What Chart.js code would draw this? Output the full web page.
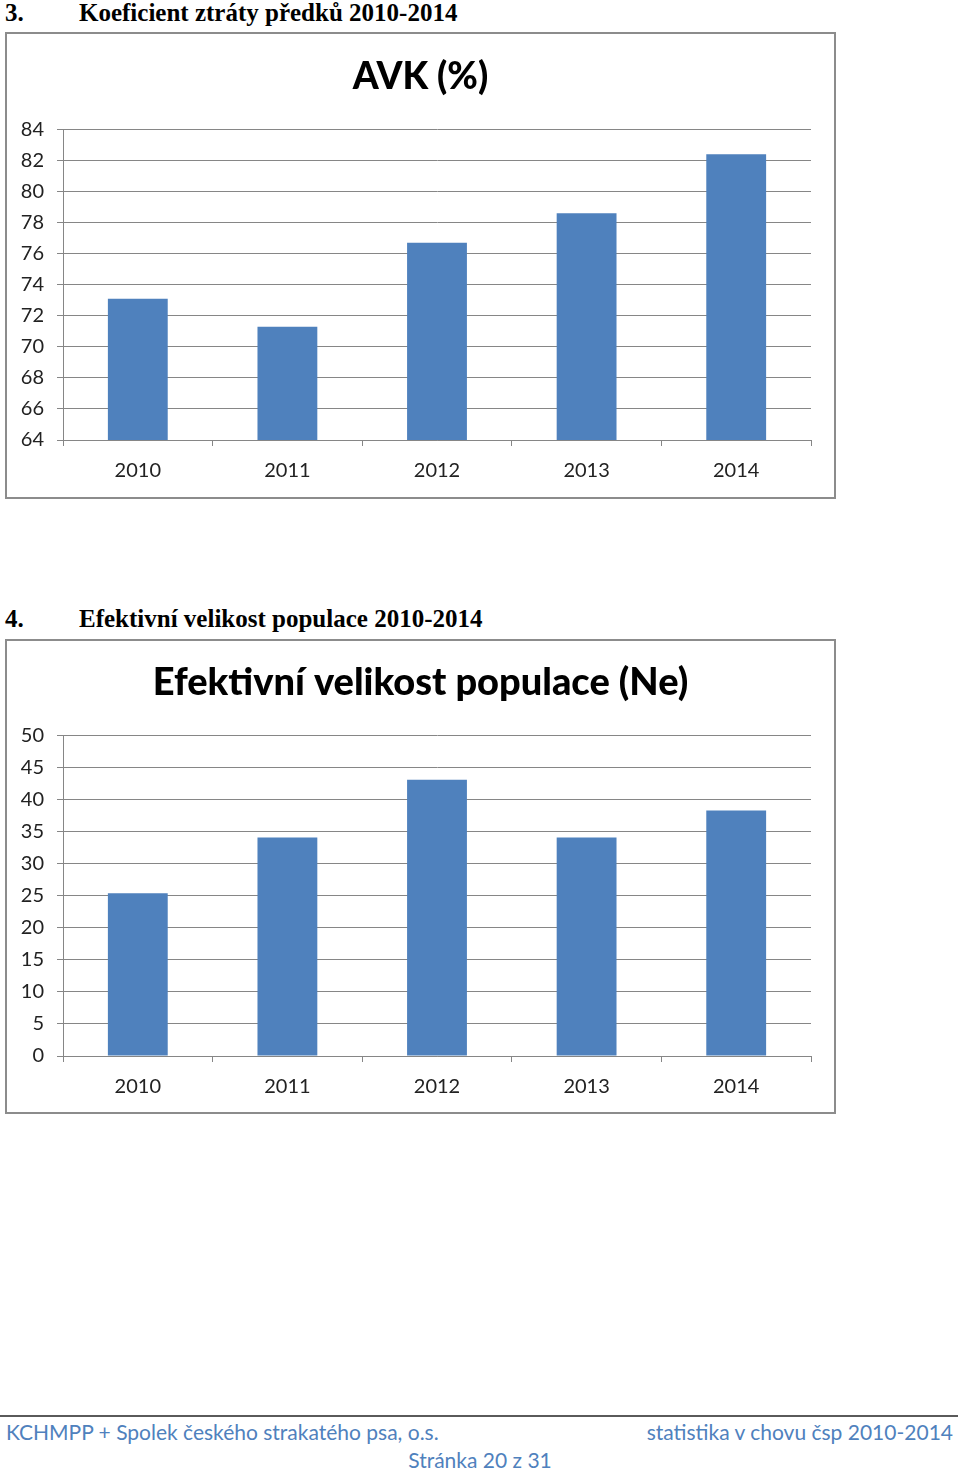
<!DOCTYPE html>
<html>
<head>
<meta charset="utf-8">
<script src="https://cdn.jsdelivr.net/npm/chart.js@4.4.1/dist/chart.umd.min.js"></script>
<style>
    body{margin:0;width:960px;height:1471px;background:#fff;position:relative;overflow:hidden;}
    .nadpis{position:absolute;left:5px;font-family:"Liberation Serif",serif;font-weight:bold;font-size:25px;color:#000;white-space:nowrap;}
    .nadpis span{position:absolute;left:74px;}
    .box{position:absolute;left:5px;width:827px;border:2px solid #8c8c8c;background:#fff;}
    .box canvas{display:block;}
    #line{position:absolute;left:0;top:1415px;width:958px;height:2px;background:#5a5a5a;}
    .pata{position:absolute;font-family:Lato,sans-serif;font-size:21px;color:#4f81bd;white-space:nowrap;}
</style>
</head>
<body>
<div class="nadpis" style="top:-1px">3.<span>Koeficient ztráty předků 2010-2014</span></div>
<div class="box" style="top:32px;height:463px"><canvas id="graf1" width="827" height="463"></canvas></div>

<div class="nadpis" style="top:605px">4.<span>Efektivní velikost populace 2010-2014</span></div>
<div class="box" style="top:639px;height:471px"><canvas id="graf2" width="827" height="471"></canvas></div>

<div id="line"></div>
<div class="pata" style="left:6px;top:1419px">KCHMPP + Spolek českého strakatého psa, o.s.</div>
<div class="pata" style="right:7px;top:1419px">statistika v chovu čsp 2010-2014</div>
<div class="pata" style="left:0;width:960px;text-align:center;top:1447px">Stránka 20 z 31</div>

<script>
// data
const roky = ["2010", "2011", "2012", "2013", "2014"];
const avk = [73.1, 71.3, 76.7, 78.6, 82.4];
const ne = [25.4, 34.1, 43.1, 34.1, 38.3];
const avkOsa = [64, 84, 2];   // min, max, krok
const neOsa = [0, 50, 5];

const barva = "#4f81bd";
const seda = "#868686";
const pismo = "Lato, sans-serif";

function vytvorGraf(id, titulek, hodnoty, osa, titleSize, padTop, padBottom, xHeight) {
    return new Chart(document.getElementById(id), {
        type: "bar",
        data: {
            labels: roky,
            datasets: [{
                data: hodnoty,
                backgroundColor: barva,
                borderWidth: 0,
                categoryPercentage: 1,
                barPercentage: 0.4
            }]
        },
        options: {
            responsive: false,
            animation: false,
            layout: { padding: 0 },
            plugins: {
                legend: { display: false },
                tooltip: { enabled: false },
                title: {
                    display: true,
                    text: titulek,
                    color: "#000",
                    font: { family: pismo, size: titleSize, weight: "900", lineHeight: 1.2 },
                    padding: { top: padTop, bottom: padBottom }
                }
            },
            scales: {
                x: {
                    grid: { drawOnChartArea: false, drawTicks: true, tickLength: 6, color: seda, offset: true },
                    border: { display: true, color: seda },
                    ticks: { color: "#222", font: { family: pismo, size: 20 }, padding: 13 },
                    afterFit: function (s) {
                        s.height = xHeight;
                        s.paddingRight = 23;   // misto vpravo od grafu, titulek zustane na stredu
                    }
                },
                y: {
                    min: osa[0],
                    max: osa[1],
                    grid: { color: seda, tickLength: 6 },
                    border: { display: true, color: seda },
                    ticks: { stepSize: osa[2], color: "#222", font: { family: pismo, size: 20 }, padding: 13 },
                    afterFit: function (s) { s.width = 56; }
                }
            }
        }
    });
}

vytvorGraf("graf1", "AVK (%)", avk, avkOsa, 37, 21, 30, 57);
vytvorGraf("graf2", "Efektivní velikost populace (Ne)", ne, neOsa, 38, 19, 30, 56);
</script>
</body>
</html>
